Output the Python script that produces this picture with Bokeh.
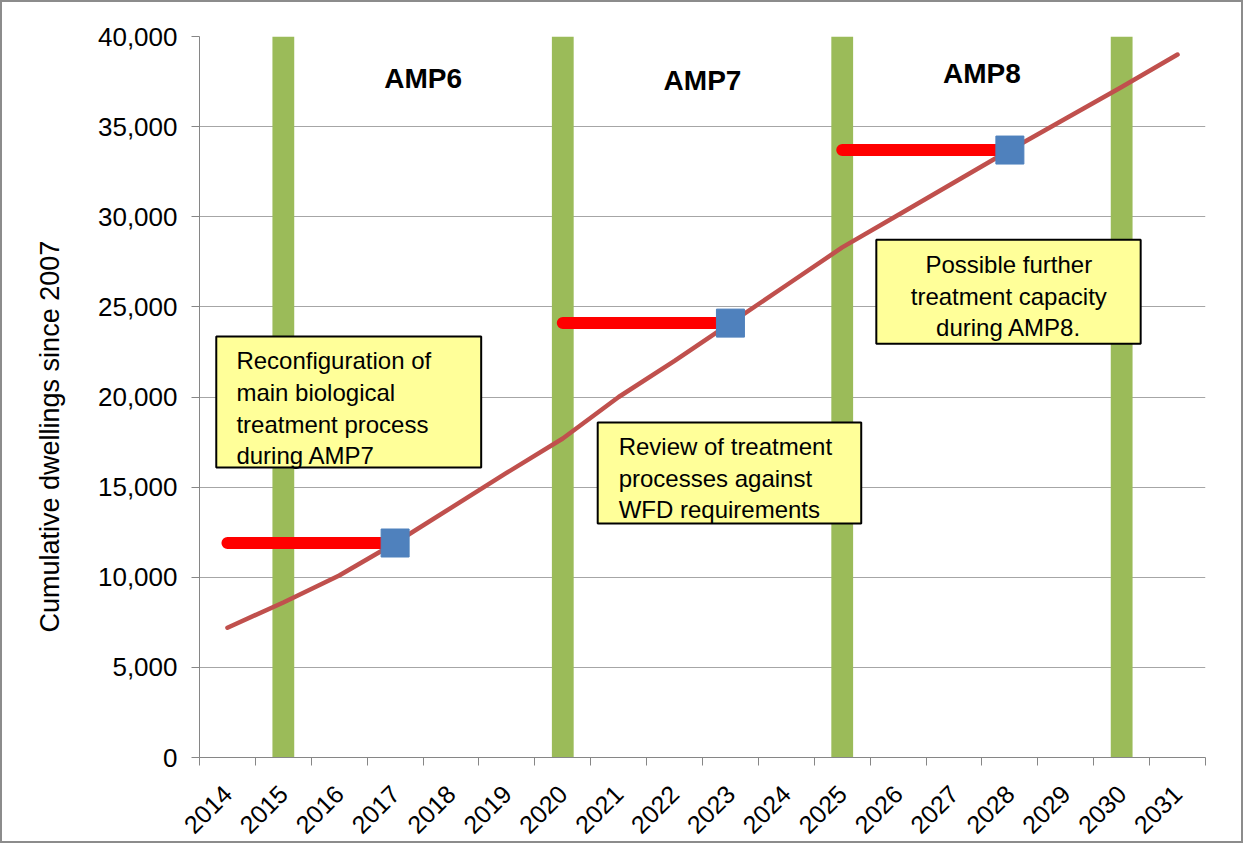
import math
from bokeh.plotting import figure
from bokeh.models import FixedTicker, NumeralTickFormatter, Range1d, Title
from bokeh.core.properties import value
from bokeh.embed import file_html
from bokeh.resources import INLINE

# ---------------- data ----------------
years = [2014, 2015, 2016, 2017, 2018, 2019, 2020, 2021, 2022,
         2023, 2024, 2025, 2026, 2027, 2028, 2029, 2030, 2031]
dwellings = [7200, 8600, 10100, 11900, 13850, 15800, 17700, 20000, 22000,
             24100, 26200, 28300, 30100, 31900, 33700, 35450, 37200, 39000]

amp_boundary_years = [2015, 2020, 2025, 2030]

cap1_years = [2014, 2015, 2016, 2017]
cap1_values = [11900, 11900, 11900, 11900]
cap2_years = [2020, 2021, 2022, 2023]
cap2_values = [24100, 24100, 24100, 24100]
cap3_years = [2025, 2026, 2027, 2028]
cap3_values = [33700, 33700, 33700, 33700]

milestone_years = [2017, 2023, 2028]
milestone_values = [11900, 24100, 33700]

amp_labels = ["AMP6", "AMP7", "AMP8"]
y_ticks = [0, 5000, 10000, 15000, 20000, 25000, 30000, 35000, 40000]
y_axis_title = "Cumulative  dwellings since 2007"

notes = [
    "Reconfiguration of\nmain biological\ntreatment process\nduring AMP7",
    "Review of treatment\nprocesses against\nWFD requirements",
    "Possible further\ntreatment capacity\nduring AMP8.",
]

FONT = "Liberation Sans"
GRID = "#a6a6a6"
AXIS = "#868686"

p = figure(width=1243, height=843, output_backend="svg", toolbar_location=None,
           x_range=Range1d(2013.5, 2031.5), y_range=Range1d(0, 40000),
           min_border_left=195, min_border_right=40, min_border_top=34,
           min_border_bottom=88)
p.styles = {"border": "2px solid #8c8c8c"}
p.outline_line_color = None
p.background_fill_color = "white"
p.border_fill_color = "white"

# axes
p.xaxis.ticker = FixedTicker(ticks=years,
                             minor_ticks=[y - 0.5 for y in years] + [years[-1] + 0.5])
p.xaxis.major_tick_line_color = None
p.xaxis.minor_tick_line_color = AXIS
p.xaxis.minor_tick_out = 8
p.xaxis.minor_tick_in = 0
p.xaxis.axis_line_color = AXIS
p.xaxis.major_label_orientation = math.pi / 4
p.xaxis.major_label_text_font = FONT
p.xaxis.major_label_text_font_size = "25px"
p.xaxis.major_label_text_color = "black"
p.xaxis.major_label_standoff = 24

p.yaxis.ticker = FixedTicker(ticks=y_ticks)
p.yaxis.formatter = NumeralTickFormatter(format="0,0")
p.yaxis.axis_line_color = AXIS
p.yaxis.major_tick_line_color = AXIS
p.yaxis.major_tick_out = 8
p.yaxis.major_tick_in = 0
p.yaxis.minor_tick_line_color = None
p.yaxis.major_label_text_font = FONT
p.yaxis.major_label_text_font_size = "26px"
p.yaxis.major_label_text_color = "black"
p.yaxis.major_label_standoff = 14

p.xgrid.visible = False
p.ygrid.grid_line_color = GRID
p.ygrid.grid_line_width = 1

# y-axis title, placed below the frame centre as in the original
p.add_layout(Title(text=y_axis_title, align="left", offset=125, standoff=60,
                   text_font=FONT, text_font_size="27px",
                   text_font_style="normal", text_color="black"), "left")

# green AMP boundary bars
p.vbar(x=amp_boundary_years, width=0.39, top=40000, bottom=0,
       fill_color="#9bbb59", line_color=None)

# main curve
p.line(years, dwellings, line_color="#c0504d", line_width=4.5, line_cap="round",
       line_join="round")

# capacity lines
for xs, ys in [(cap1_years, cap1_values), (cap2_years, cap2_values),
               (cap3_years, cap3_values)]:
    p.line(xs, ys, line_color="#ff0000", line_width=12, line_cap="round")

# milestone markers
p.scatter(milestone_years, milestone_values, marker="square", size=28,
          fill_color="#4f81bd", line_color="#4f81bd")

# AMP labels
p.text(x=[2017.5, 2022.5, 2027.5], y=[37650, 37550, 37950], text=amp_labels,
       text_font=value(FONT), text_font_size="28px", text_font_style="bold",
       text_align="center", text_baseline="middle", text_color="black")

# note boxes
p.quad(left=[2013.80, 2020.625, 2025.61], right=[2018.54, 2025.34, 2030.34],
       top=[23350, 18580, 28730], bottom=[16085, 12980, 22960],
       fill_color="#ffff99", line_color="black", line_width=2)

p.text(x=[2014.16, 2021.0], y=[22750, 18000], text=notes[:2],
       text_font=value(FONT), text_font_size="24px", text_align="left",
       text_baseline="top", text_line_height=1.17, text_color="black")
p.text(x=[2027.98], y=[28100], text=notes[2:],
       text_font=value(FONT), text_font_size="24px", text_align="center",
       text_baseline="top", text_line_height=1.17, text_color="black")

open("out.html", "w").write(file_html(p, INLINE))
